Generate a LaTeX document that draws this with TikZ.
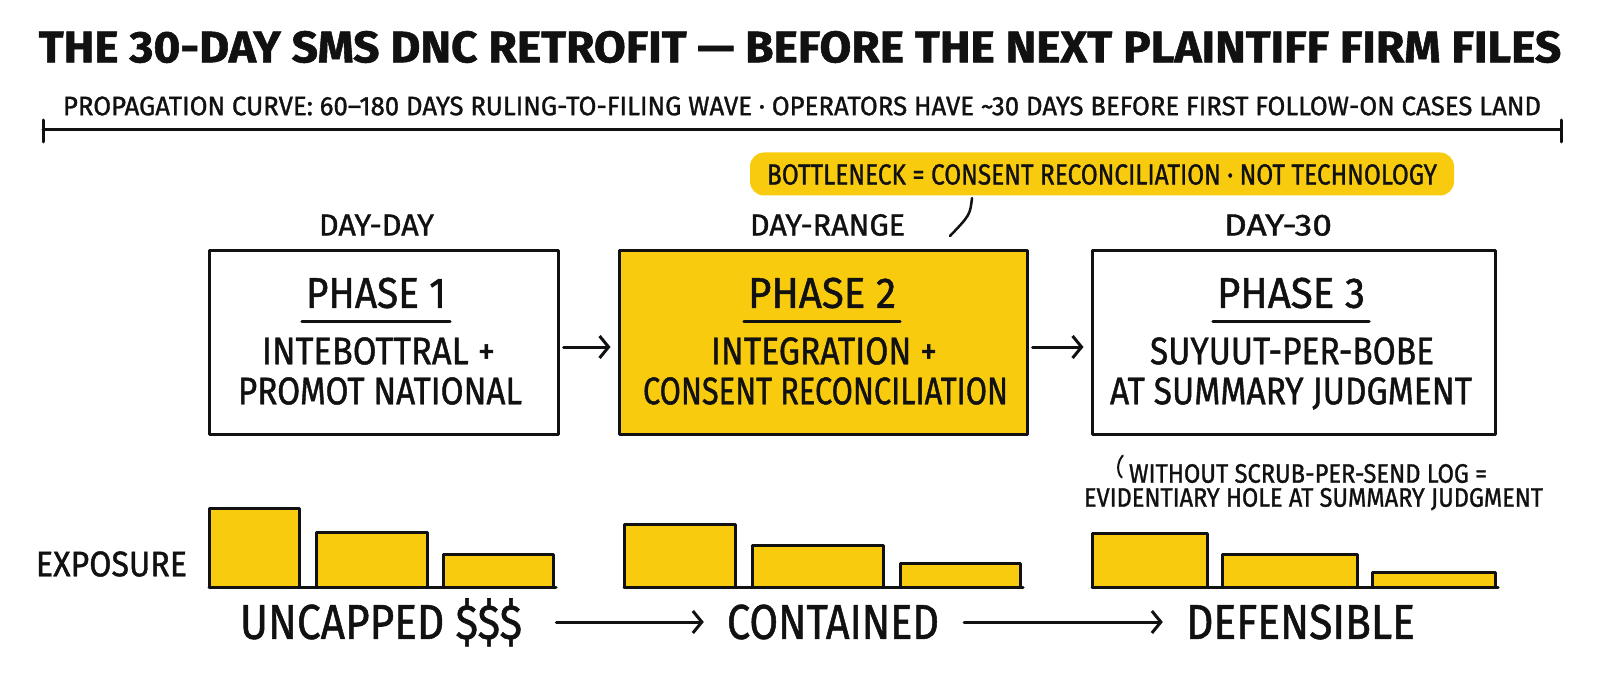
\documentclass[tikz,border=0pt]{standalone}
\usepackage{fontspec}
\setmainfont{Fira Sans}[FakeBold=1.2]
\usetikzlibrary{arrows.meta}
\definecolor{ylw}{HTML}{F9CB0E}
\definecolor{ink}{HTML}{111111}
\newlength\capht
\newcommand\fit[3]{\settoheight\capht{H}\resizebox{#1}{#2}{\raisebox{0pt}[\capht][0pt]{#3}}}
\tikzset{
  ln/.style={draw=ink, line width=3pt, line cap=round, line join=round},
  phasebox/.style={ln, minimum width=349pt, minimum height=184pt, inner sep=0pt},
  bar/.style={ln, fill=ylw},
  arr/.style={ln, -{Straight Barb[length=9pt,width=22pt,line width=3pt]}},
  lbl/.style={text=ink, inner sep=0pt, anchor=center},
}
\begin{document}
\begin{tikzpicture}[x=1pt, y=-1pt]
\useasboundingbox (0,0) rectangle (1600,679);
% title
\node[lbl, font=\bfseries] (title) at (800,47) {\fit{1522pt}{30.6pt}{THE 30-DAY SMS DNC RETROFIT — BEFORE THE NEXT PLAINTIFF FIRM FILES}};
\node[lbl] (sub) at (802,106) {\fit{1478pt}{18.4pt}{PROPAGATION CURVE: 60–180 DAYS RULING-TO-FILING WAVE · OPERATORS HAVE \textasciitilde30 DAYS BEFORE FIRST FOLLOW-ON CASES LAND}};
\coordinate (bl) at (43,130);
\coordinate (br) at (1561,130);
\draw[ln] (bl) -- (br);
\draw[ln] ([yshift=-12pt]bl) -- ([yshift=10pt]bl);
\draw[ln] ([yshift=-12pt]br) -- ([yshift=10pt]br);
% callout
\node[fill=ylw, rounded corners=14pt, minimum width=704pt, minimum height=43pt, inner sep=0pt, text=ink] (call) at (1102,174) {};
\node[lbl] (callt) at (1102,174.5) {\fit{670pt}{20pt}{BOTTLENECK = CONSENT RECONCILIATION · NOT TECHNOLOGY}};
% day labels
\node[lbl] (d1) at (376.5,225) {\fit{115pt}{21pt}{DAY-DAY}};
\node[lbl] (d2) at (827.5,225) {\fit{155pt}{21pt}{DAY-RANGE}};
\node[lbl] (d3) at (1278,225) {\fit{108pt}{21pt}{DAY-30}};
% boxes
\node[phasebox] (b1) at (383.5,342) {};
\node[phasebox, fill=ylw, minimum width=408pt] (b2) at (823,342) {};
\node[phasebox, minimum width=403pt] (b3) at (1293.5,342) {};
\coordinate (cs) at (972,198);
\coordinate (ce) at (950,236);
\draw[ln, line width=2.5pt] (cs) .. controls (970,215) .. (ce);
% phase texts
\node[lbl] (p1) at (376,293) {\fit{140pt}{29.6pt}{PHASE 1}};
\node[lbl] (p2) at (822,293) {\fit{148pt}{29.6pt}{PHASE 2}};
\node[lbl] (p3) at (1291,293) {\fit{148pt}{29.6pt}{PHASE 3}};
\foreach \p in {p1,p2,p3}{
  \draw[ln] ([xshift=-4pt]\p.west |- 0,321) -- ([xshift=4pt]\p.east |- 0,321);
}
\node[lbl] (l1a) at (378.5,351) {\fit{233pt}{26.5pt}{INTEBOTTRAL +}};
\node[lbl] (l1b) at (380,391) {\fit{284pt}{26.5pt}{PROMOT NATIONAL}};
\node[lbl] (l2a) at (824,351) {\fit{226pt}{26.5pt}{INTEGRATION +}};
\node[lbl] (l2b) at (825.5,391) {\fit{365pt}{26.5pt}{CONSENT RECONCILIATION}};
\node[lbl] (l3a) at (1292,351) {\fit{284pt}{26.5pt}{SUYUUT-PER-BOBE}};
\node[lbl] (l3b) at (1291,391) {\fit{362pt}{26.5pt}{AT SUMMARY JUDGMENT}};
\draw[arr] ([xshift=4pt]b1.east |- 0,347) -- ([xshift=-7pt]b2.west |- 0,347);
\draw[arr] ([xshift=4pt]b2.east |- 0,347) -- ([xshift=-7pt]b3.west |- 0,347);
% annotation
\node[lbl] (n1) at (1308,473.5) {\fit{358pt}{18.4pt}{WITHOUT SCRUB-PER-SEND LOG =}};
\node[lbl] (n2) at (1313.5,497.5) {\fit{459pt}{18.4pt}{EVIDENTIARY HOLE AT SUMMARY JUDGMENT}};
\draw[ln, line width=2pt] ([xshift=-6pt,yshift=18pt]n1.west) .. controls ([xshift=-12pt,yshift=11pt]n1.west) and ([xshift=-12pt,yshift=1pt]n1.west) .. ([xshift=-7pt,yshift=-4pt]n1.west);
% exposure
\node[lbl] (exp) at (111.5,564) {\fit{151pt}{24.5pt}{EXPOSURE}};
% bars group1
\draw[bar] (209,587) rectangle (299,508);
\draw[bar] (316,587) rectangle (427,532);
\draw[bar] (443,587) rectangle (553,554);
\draw[ln] (209,587) -- (556,587);
% group2
\draw[bar] (624,587) rectangle (735,524);
\draw[bar] (752,587) rectangle (883,545);
\draw[bar] (900,587) rectangle (1020,563);
\draw[ln] (624,587) -- (1023,587);
% group3
\draw[bar] (1092,587) rectangle (1207,533);
\draw[bar] (1222,587) rectangle (1357,554);
\draw[bar] (1372,587) rectangle (1495,572);
\draw[ln] (1092,587) -- (1498,587);
% bottom
\node[lbl] (u) at (381,622) {\fit{282pt}{33.7pt}{UNCAPPED \$\$\$}};
\node[lbl] (c) at (833,622) {\fit{212pt}{33.7pt}{CONTAINED}};
\node[lbl] (df) at (1300.5,622) {\fit{229pt}{33.7pt}{DEFENSIBLE}};
\draw[arr] ([xshift=34pt]u.east) -- ([xshift=-23pt]c.west);
\draw[arr] ([xshift=25pt]c.east) -- ([xshift=-23pt]df.west);
\end{tikzpicture}
\end{document}
